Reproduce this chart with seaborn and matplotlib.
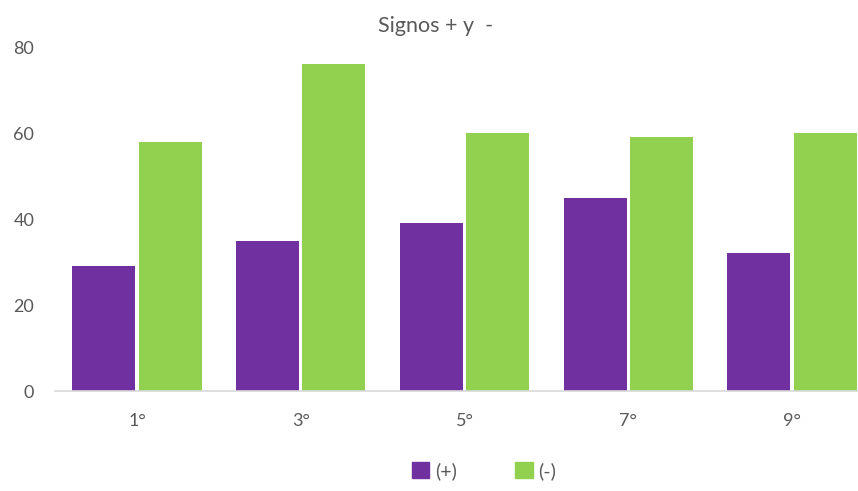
import matplotlib
matplotlib.use("Agg")
import matplotlib.pyplot as plt
import pandas as pd
import seaborn as sns

# Values per grade
grados = ["1°", "3°", "5°", "7°", "9°"]
positivos = [29, 35, 39, 45, 32]
negativos = [58, 76, 60, 59, 60]
series = ["(+)", "(-)"]
colores = ["#7030A0", "#92D050"]
y_ticks = [0, 20, 40, 60, 80]

df = pd.DataFrame({
    "grado": grados * 2,
    "valor": positivos + negativos,
    "signo": [series[0]] * len(grados) + [series[1]] * len(grados),
})

sns.set_theme(style="white")
plt.rcParams["font.family"] = ["Lato", "DejaVu Sans"]
text_color = "#595959"

fig = plt.figure(figsize=(8.58, 4.91), dpi=100)
ax = fig.add_axes([55 / 858, 100 / 491, 819 / 858, 344 / 491])

sns.barplot(
    data=df, x="grado", y="valor", hue="signo",
    palette=colores, width=0.81, gap=0.05, saturation=1,
    edgecolor="none", ax=ax, legend=False,
)

ax.set_ylim(0, 80)
ax.set_xlim(-0.5, len(grados) - 0.5)
ax.set_yticks(y_ticks)
ax.set_xlabel("")
ax.set_ylabel("")
for side in ["left", "right", "top"]:
    ax.spines[side].set_visible(False)
ax.spines["bottom"].set_color("#d9d9d9")
ax.spines["bottom"].set_linewidth(1.2)
ax.tick_params(axis="x", length=0, pad=16, labelsize=13, labelcolor=text_color)
ax.tick_params(axis="y", length=0, pad=15, labelsize=13, labelcolor=text_color)

fig.text(436 / 858, 1 - 26 / 491, "Signos + y  -", ha="center", va="center",
         fontsize=15.5, color=text_color)

handles = [plt.Rectangle((0, 0), 1, 1, color=c) for c in colores]
fig.legend(handles, series, loc="center", bbox_to_anchor=(484 / 858, 1 - 471 / 491),
           ncol=2, frameon=False, fontsize=14, labelcolor=text_color,
           handlelength=0.9, handleheight=0.9, handletextpad=0.3, columnspacing=3.0)

fig.savefig("out.png", dpi=100, facecolor="white")
